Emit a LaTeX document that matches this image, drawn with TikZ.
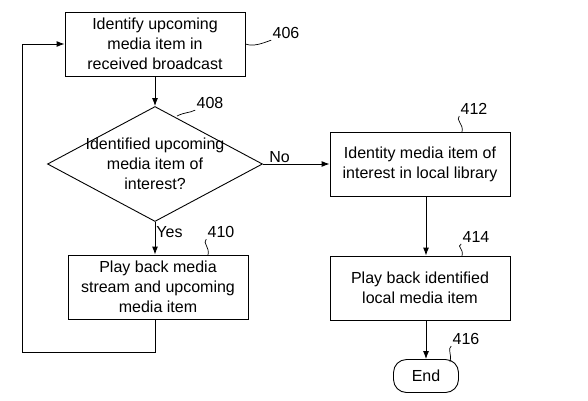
\documentclass[tikz,border=0pt]{standalone}
\usepackage{fontspec}
\setmainfont{Liberation Sans}
\usetikzlibrary{shapes.geometric,arrows.meta}
\begin{document}
\begin{tikzpicture}[x=1pt,y=-1pt,line width=0.9pt,
	box/.style={draw,minimum width=180pt,minimum height=64pt,inner sep=0pt,align=center,font=\fontsize{16}{20}\selectfont},
	decision/.style={draw,diamond,aspect=1.87,minimum width=215pt,minimum height=115pt,inner sep=-9pt,align=center,font=\fontsize{16}{20}\selectfont},
	terminal/.style={draw,rounded corners=13pt,minimum width=65pt,minimum height=33pt,font=\fontsize{16}{18}\selectfont},
	tag/.style={font=\fontsize{16}{18}\selectfont,inner sep=1pt},
	flow/.style={-{Latex[length=8pt,width=6pt]}}]

	\useasboundingbox (0,0) rectangle (588,400);

% left column
\node[box] (b406) at (155,44) {Identify upcoming\\media item in\\received broadcast};
\node[decision] (d408) at (155,164) {Identified upcoming\\media item of\\interest?};
\node[box] (b410) at (158,287) {Play back media\\stream and upcoming\\media item};

% right column
\node[box] (b412) at (420,164) {Identity media item of\\interest in local library};
\node[box] (b414) at (420,288) {Play back identified\\local media item};
\node[terminal] (e416) at (426,376) {End};

% reference numerals
\node[tag] (l406) at (286,33) {406};
\node[tag] (l408) at (210,103) {408};
\node[tag] (l410) at (221,232) {410};
\node[tag] (l412) at (474,109) {412};
\node[tag] (l414) at (476,237) {414};
\node[tag] (l416) at (466,339) {416};

\draw[line width=0.7pt] (b406.east) .. controls +(8,3) and +(-8,3) .. (l406.south west);
\draw[line width=0.7pt] (177,116) .. controls +(8,-4) and +(-6,3) .. (l408.south west);
\draw[line width=0.7pt] (208,255) .. controls +(2,-8) and +(-4,4) .. (l410.south west);
\draw[line width=0.7pt] (462,132) .. controls +(2,-8) and +(-4,4) .. (l412.south west);
\draw[line width=0.7pt] (462,256) .. controls +(2,-8) and +(-5,3) .. (l414.south west);
\draw[line width=0.7pt] (450,362) .. controls +(2,-9) and +(-4,3) .. (l416.south west);

% connectors
\draw[flow] (b406) -- (d408);
\draw[flow] (d408.south) -- node[tag,right,pos=0.3] {Yes} (d408.south |- b410.north);
\draw[flow] (d408) -- node[tag,above,pos=0.25] {No} (b412);
\draw[flow] (b412.south -| e416.north) -- (b414.north -| e416.north);
\draw[flow] (b414.south -| e416.north) -- (e416);
\draw[flow] (b410.south -| d408.south) -- ++(0,33) -| (22,44) -- (b406.west);

\end{tikzpicture}
\end{document}
